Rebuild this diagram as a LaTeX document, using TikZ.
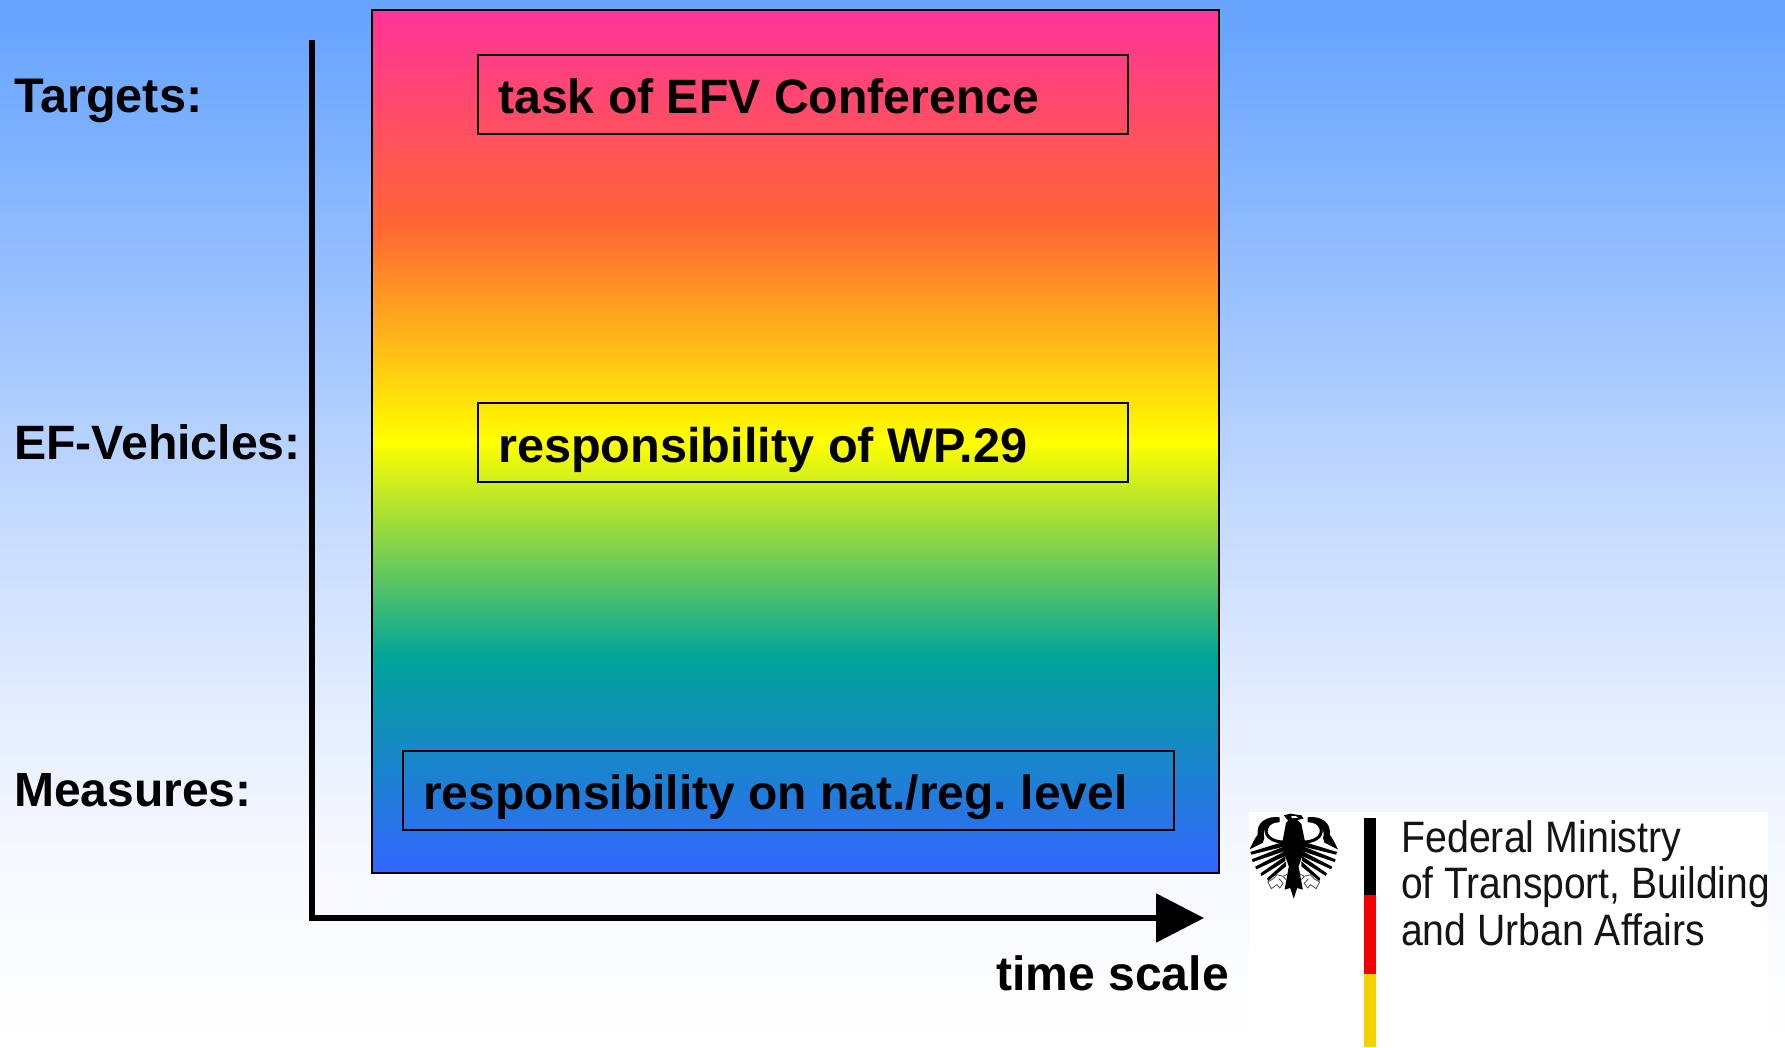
\documentclass[tikz,border=0pt]{standalone}
\usepackage{fontspec}
\setmainfont{Liberation Sans}
\usetikzlibrary{arrows.meta}
\definecolor{bgtop}{HTML}{69A5FF}
\definecolor{bgb}{HTML}{A4C7FF}
\definecolor{bgc}{HTML}{C2D9FF}
\definecolor{bgd}{HTML}{E3ECFF}
\definecolor{bge}{HTML}{F5F8FF}
\definecolor{cA}{HTML}{FF3399}
\definecolor{cB}{HTML}{FF6633}
\definecolor{cC}{HTML}{FFFF00}
\definecolor{cD}{HTML}{00A499}
\definecolor{cE}{HTML}{3366FF}
\definecolor{flagred}{HTML}{F20000}
\definecolor{flaggold}{HTML}{F2D200}
\pgfdeclareverticalshading{skyfade}{100bp}{color(0bp)=(white); color(25bp)=(white); color(34.4bp)=(bge); color(41.6bp)=(bgd); color(51.1bp)=(bgc); color(58.3bp)=(bgb); color(73.6bp)=(bgtop); color(100bp)=(bgtop)}
\pgfdeclareverticalshading{rainbowfade}{100bp}{color(0bp)=(cE); color(25bp)=(cE); color(37.5bp)=(cD); color(50bp)=(cC); color(62.5bp)=(cB); color(75bp)=(cA); color(100bp)=(cA)}
\frenchspacing
\tikzset{
  x=1pt,y=-1pt,
  bigtext/.style={font=\fontsize{#1}{48}\selectfont\bfseries,anchor=base west,inner sep=0pt,text=black},
  panel/.style={draw=black,line width=2pt,anchor=north west,inner sep=0pt,outer sep=0pt},
  axisline/.style={draw=black,line width=5.5pt},
  logotext/.style={font=\fontsize{44}{44}\selectfont,anchor=base west,inner sep=0pt,text=black!92,xscale=#1,transform shape},
}
\begin{document}
\begin{tikzpicture}
\useasboundingbox (0,0) rectangle (1785,1047);
\shade[shading=skyfade] (0,0) rectangle (1785,1047);
% rainbow panel
\shade[shading=rainbowfade] (372,10) rectangle (1219,873);
\node[panel,minimum width=847pt,minimum height=863pt] (main) at (372,10) {};
% inner boxes
\node[panel,minimum width=650pt,minimum height=79pt] (boxA) at (478,55) {};
\node[panel,minimum width=650pt,minimum height=79pt] (boxB) at (478,403) {};
\node[panel,minimum width=771pt,minimum height=79pt] (boxC) at (402.5,751) {};
\node[bigtext=48.2] (tA) at (498,113) {task of EFV Conference};
\node[bigtext=48.65] (tB) at (498,462) {responsibility of WP.29};
\node[bigtext=48] (tC) at (423,809.5) {responsibility on nat./reg. level};
% labels
\node[bigtext=48.6] (lA) at (14,112.5) {Targets:};
\node[bigtext=48.2] (lB) at (14,459) {EF-Vehicles:};
\node[bigtext=48] (lC) at (14,806) {Measures:};
\node[bigtext=48.1] (lD) at (996,990) {time scale};
% axes
\coordinate (axtop) at (312,40);
\coordinate (axorigin) at (312,918);
\coordinate (axend) at (1204,918);
\draw[axisline,miter limit=10,-{Triangle[length=48pt,width=48pt]}] (axtop) -- (axorigin) -- (axend);
% logo
\fill[white] (1249,812) rectangle (1768,1047);
\fill[black] (1364,818) rectangle (1376,895);
\fill[flagred] (1364,895) rectangle (1376,974);
\fill[flaggold] (1364,974) rectangle (1376,1047);
\node[logotext=0.895] (mA) at (1401,852) {Federal Ministry};
\node[logotext=0.885] (mB) at (1401,898) {of Transport, Building};
\node[logotext=0.89] (mC) at (1401,945) {and Urban Affairs};
% eagle
\begin{scope}[shift={(1293.7,808)},x=0.35pt,y=-0.3333pt]
  \fill[black] (-28,22) -- (-10,17) -- (22,22) -- (28,32) -- (10,36) -- (22,48) -- (32,100) -- (26,140) -- (14,175) -- (26,245) -- (10,240) -- (0,272) -- (-10,240) -- (-26,245) -- (-14,175) -- (-26,140) -- (-32,100) -- (-22,45) -- (-16,38) -- cycle;
  \fill[white] (-8,25) -- (6,24) -- (12,29) -- (-4,31) -- cycle;
  \foreach \s in {1,-1}{
    \begin{scope}[xscale=\s]
      \draw[black,line width=3pt] (22,102) .. controls (55,104) and (84,88) .. (78,62) .. controls (74,46) and (58,38) .. (42,38);
      \fill[black] (40,28) .. controls (78,22) and (108,45) .. (103,80) .. controls (112,92) and (120,110) .. (126,124) -- (88,104) -- (84,90) .. controls (92,65) and (72,42) .. (40,42) -- cycle;
      \foreach \ax/\ay/\bx/\by in {24/108/122/136, 24/122/118/158, 24/137/108/180, 24/152/93/200, 22/168/74/215}{
        \fill[black] (\ax,\ay-8) -- (\bx+2,\by-4) -- (\bx-1,\by+4) -- (\ax,\ay+7) -- cycle;
      }
      \draw[black!70,line width=0.8pt] (18,198) -- (30,205) -- (22,215) (30,205) -- (48,200) -- (58,212) -- (74,222) -- (64,242) -- (48,230) -- (40,240) -- (30,226) -- (42,212);
    \end{scope}
  }
\end{scope}
\end{tikzpicture}
\end{document}
